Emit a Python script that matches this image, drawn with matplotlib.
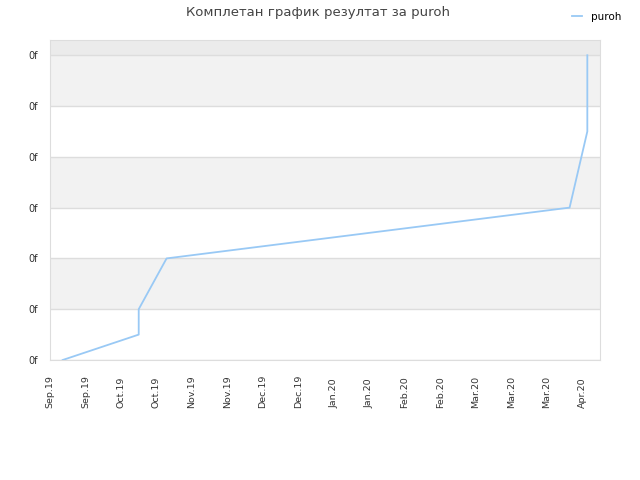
import datetime as dt
import matplotlib
matplotlib.use("Agg")
import matplotlib.pyplot as plt
import matplotlib.dates as mdates

# data
dates = [dt.date(2019, 9, 20), dt.date(2019, 10, 20), dt.date(2019, 10, 20),
         dt.date(2019, 10, 31), dt.date(2020, 4, 7), dt.date(2020, 4, 14),
         dt.date(2020, 4, 14)]
values = [0, 0.5, 1, 2, 3, 4.5, 6]
series_name = "puroh"
title = "Комплетан график резултат за puroh"
tick_start = dt.date(2019, 9, 15)
n_ticks = 16
y_ticks = [0, 1, 2, 3, 4, 5, 6]

fig = plt.figure(figsize=(6.4, 4.8), dpi=100)
ax = fig.add_axes([50 / 640, 120 / 480, 550 / 640, 320 / 480])

# alternating bands
for lo in [1, 3, 5]:
    ax.axhspan(lo, lo + 1, color="#f2f2f2", zorder=0, lw=0)
ax.axhspan(6, 6.3, color="#ebebeb", zorder=0, lw=0)
for y in y_ticks:
    ax.axhline(y, color="#dddddd", lw=1, zorder=1)

ax.plot(dates, values, color="#99c9f5", lw=1.3, zorder=3, label=series_name)

ticks = [tick_start + dt.timedelta(days=14 * i) for i in range(n_ticks)]
ax.set_xticks(ticks)
ax.xaxis.set_major_formatter(mdates.DateFormatter("%b.%y"))
ax.set_xlim(tick_start, tick_start + dt.timedelta(days=217.5))
ax.set_ylim(0, 6.3)
ax.set_yticks(y_ticks)
ax.set_yticklabels(["0f"] * len(y_ticks))

ax.tick_params(axis="both", length=0, colors="#333333")
ax.tick_params(axis="x", rotation=90, pad=34.5, labelsize=6.8)
ax.tick_params(axis="y", pad=8.5, labelsize=7)
for lbl in ax.get_xticklabels():
    lbl.set_verticalalignment("bottom")
for s in ax.spines.values():
    s.set_color("#dddddd")

fig.text(0.497, 0.987, title, ha="center", va="top", fontsize=9.5, color="#444444")
fig.legend(loc="upper right", bbox_to_anchor=(0.985, 0.995), frameon=False,
           fontsize=7.5, handlelength=1.0, handletextpad=0.8)

fig.savefig("out.png", dpi=100)
